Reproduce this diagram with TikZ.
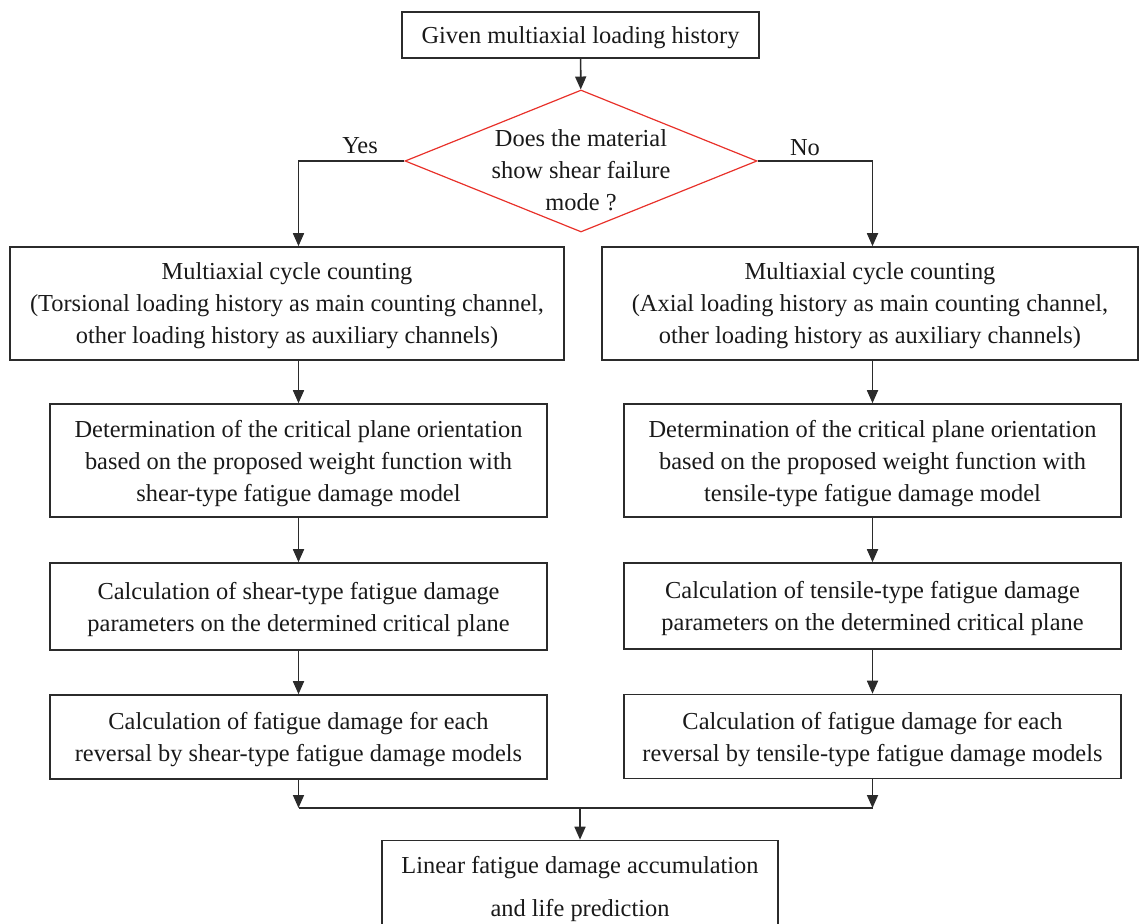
\documentclass[tikz,border=0pt]{standalone}
\usepackage{fontspec}
\setmainfont{Liberation Serif}
\usetikzlibrary{shapes.geometric,arrows.meta,calc}
\definecolor{boxline}{HTML}{2B2B2B}
\definecolor{qred}{HTML}{E8312A}

\begin{document}
\begin{tikzpicture}[
    x=0.5pt, y=-0.5pt,
    font=\fontsize{12.2}{16}\selectfont,
    box/.style={draw=boxline, line width=0.8pt, align=center, inner sep=0pt, text depth=0pt, text=black!90},
    decision/.style={diamond, draw=qred, line width=0.6pt, minimum width=176pt, minimum height=71pt, inner sep=0pt},
    arr/.style={-{Triangle[length=6.5pt,width=5.5pt]}, line width=0.85pt, draw=boxline},
    conn/.style={line width=0.85pt, draw=boxline}
]
    \useasboundingbox (0,0) rectangle (1139,924);
    \clip (0,0) rectangle (1139,924);

    % --- Start and decision ---
    \node[box, minimum width=178.5pt, minimum height=23pt] (start) at (580.5,35) {Given multiaxial loading history};
    \node[decision] (q) at (581,161) {};
    \node[align=center, text=black!90] (qtext) at (581,170) {Does the material\\show shear failure\\mode ?};
    \node[text=black!90] (yes) at (360,146) {Yes};
    \node[text=black!90] (no) at (805,148) {No};

    % --- Shear branch (left) ---
    \node[box, minimum width=277pt, minimum height=56.5pt] (l1) at (287,303.5) {Multiaxial cycle counting\\(Torsional loading history as main counting channel,\\other loading history as auxiliary channels)};
    \node[box, minimum width=248.5pt, minimum height=56.5pt] (l2) at (298.5,460.5) {Determination of the critical plane orientation\\based on the proposed weight function with\\shear-type fatigue damage model};
    \node[box, minimum width=248.5pt, minimum height=43.5pt] (l3) at (298.5,606.5) {Calculation of shear-type fatigue damage\\parameters on the determined critical plane};
    \node[box, minimum width=248.5pt, minimum height=42pt] (l4) at (298.5,737) {Calculation of fatigue damage for each\\reversal by shear-type fatigue damage models};

    % --- Tensile branch (right) ---
    \node[box, minimum width=268pt, minimum height=56.5pt] (r1) at (870,303.5) {Multiaxial cycle counting\\(Axial loading history as main counting channel,\\other loading history as auxiliary channels)};
    \node[box, minimum width=248.5pt, minimum height=56.5pt] (r2) at (872.5,460.5) {Determination of the critical plane orientation\\based on the proposed weight function with\\tensile-type fatigue damage model};
    \node[box, minimum width=248.5pt, minimum height=43pt] (r3) at (872.5,606) {Calculation of tensile-type fatigue damage\\parameters on the determined critical plane};
    \node[box, minimum width=248.5pt, minimum height=42pt] (r4) at (872.5,736.5) {Calculation of fatigue damage for each\\reversal by tensile-type fatigue damage models};

    % --- Final step ---
    \node[box, minimum width=198pt, minimum height=45.5pt, font=\fontsize{12.2}{21.5}\selectfont] (final) at (580,886) {Linear fatigue damage accumulation\\and life prediction};

    % --- Connectors ---
    \draw[arr] (start) -- (q);
    \draw[arr] (q.west) -| (l1.north -| l2.north);
    \draw[arr] (q.east) -| (r1.north -| r2.north);
    \draw[arr] (l1.south -| l2.north) -- (l2.north);
    \draw[arr] (l2) -- (l3);
    \draw[arr] (l3) -- (l4);
    \draw[arr] (r1.south -| r2.north) -- (r2.north);
    \draw[arr] (r2) -- (r3);
    \draw[arr] (r3) -- (r4);

    % --- Merge ---
    \coordinate (jl) at (298.5,808);
    \coordinate (jr) at (872.5,808);
    \coordinate (jm) at (580,808);
    \draw[arr] (l4) -- (jl);
    \draw[arr] (r4) -- (jr);
    \draw[conn] (jl) -- (jr);
    \draw[arr] (jm) -- (final);
\end{tikzpicture}
\end{document}
